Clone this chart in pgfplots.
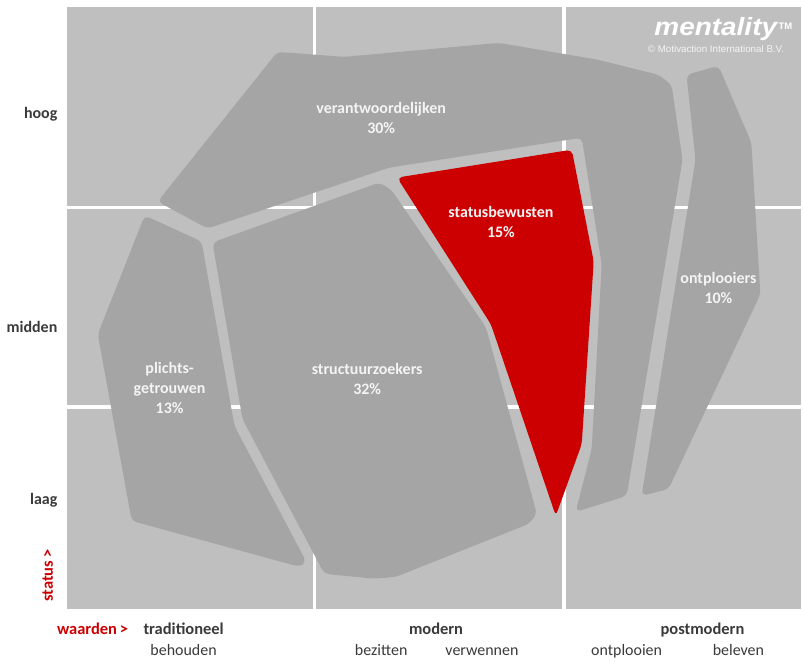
\documentclass[border=0pt]{standalone}
\usepackage{pgfplots}
\pgfplotsset{compat=1.18}
\usepackage{fontspec}
\setmainfont{Carlito}
\newfontfamily\logofont{Liberation Sans}
\definecolor{bg}{HTML}{BFBFBF}
\definecolor{seg}{HTML}{A5A5A5}
\definecolor{mred}{HTML}{CC0000}
\definecolor{lab}{HTML}{3A3A3A}
\definecolor{segtxt}{HTML}{F4F4F4}
\tikzset{
  seglabel/.style={font=\fontsize{16}{20}\selectfont\bfseries, text=segtxt, align=center},
  ylab/.style={font=\fontsize{16}{18}\selectfont\bfseries, text=lab, anchor=base east},
  xlabb/.style={font=\fontsize{16.5}{18}\selectfont\bfseries, text=lab, anchor=base},
  xlabr/.style={font=\fontsize{16}{18}\selectfont, text=lab, anchor=base},
}
\begin{document}
\begin{tikzpicture}
\begin{axis}[
  width=736pt, height=603pt, scale only axis,
  xmin=67, xmax=803, ymin=7, ymax=610, y dir=reverse,
  clip=false,
  axis line style={draw=none},
  xtick={315,565}, ytick={208,408},
  xticklabels={}, yticklabels={},
  major tick length=0pt,
  grid=major, major grid style={white, line width=3.5pt},
  axis background/.style={fill=bg},
]
% invisible frame fixing the picture size
\path (axis cs:0,0) rectangle (axis cs:803,660);

% verantwoordelijken
\addplot[fill=seg, draw=none, rounded corners=5pt] coordinates {
 (158,202) (278,52) (345,57) (500,43) (600,60) (660,75) (673,85)
 (684,160) (628,497) (577,513) (593,450) (603,265) (583,138)
 (390,168) (208,229)} -- cycle;
% plichtsgetrouwen
\addplot[fill=seg, draw=none, rounded corners=5pt] coordinates {
 (145,216) (202,242) (235,427) (307,563) (300,568) (132,522)
 (98,335) } -- cycle;
% structuurzoekers
\addplot[fill=seg, draw=none, rounded corners=5pt] coordinates {
 (380,183) (392,190) (487,328) (538,515) (530,525) (397,578)
 (375,580) (325,575) (243,420) (213,243) } -- cycle;
% statusbewusten
\addplot[fill=mred, draw=none, rounded corners=5pt] coordinates {
 (398,178) (573,150) (595,262) (583,445) (557,517) (492,325) } -- cycle;
% ontplooiers
\addplot[fill=seg, draw=none, rounded corners=5pt] coordinates {
 (688,75) (720,66) (753,143) (762,295) (670,490) (643,497)
 (697,160) } -- cycle;

% segment labels
\node[seglabel] at (axis cs:382,118) {verantwoordelijken\\30\%};
\node[seglabel] at (axis cs:502,222) {statusbewusten\\15\%};
\node[seglabel] at (axis cs:368,380) {structuurzoekers\\32\%};
\node[seglabel] at (axis cs:170,389) {plichts-\\getrouwen\\13\%};
\node[seglabel] at (axis cs:720,289) {ontplooiers\\10\%};

% logo
\node[anchor=base east, text=white, font=\logofont\fontsize{25}{26}\selectfont\bfseries\itshape, xscale=1.12, inner sep=0pt] at (axis cs:779,36) {mentality};
\node[anchor=west, text=white, font=\logofont\fontsize{9.5}{10}\selectfont\bfseries, inner sep=0pt] at (axis cs:780,26) {TM};
\node[anchor=base east, text=segtxt, font=\logofont\fontsize{9.8}{10}\selectfont, inner sep=0pt] at (axis cs:786,53) {© Motivaction International B.V.};

% y labels
\node[ylab] at (axis cs:61,119) {hoog};
\node[ylab] at (axis cs:61,333) {midden};
\node[ylab] at (axis cs:61,506) {laag};
\node[anchor=base, rotate=90, text=mred, font=\fontsize{16.5}{18}\selectfont\bfseries] at (axis cs:53,577) {status\,>};

% x labels
\node[anchor=base west, text=mred, font=\fontsize{16.5}{18}\selectfont\bfseries, inner sep=0pt] at (axis cs:57,636) {waarden\,>};
\node[xlabb] at (axis cs:184,636) {traditioneel};
\node[xlabr] at (axis cs:184,657) {behouden};
\node[xlabb] at (axis cs:437,636) {modern};
\node[xlabr] at (axis cs:382,657) {bezitten};
\node[xlabr] at (axis cs:483,657) {verwennen};
\node[xlabb] at (axis cs:704,636) {postmodern};
\node[xlabr] at (axis cs:628,657) {ontplooien};
\node[xlabr] at (axis cs:740,657) {beleven};
\end{axis}
\end{tikzpicture}
\end{document}
